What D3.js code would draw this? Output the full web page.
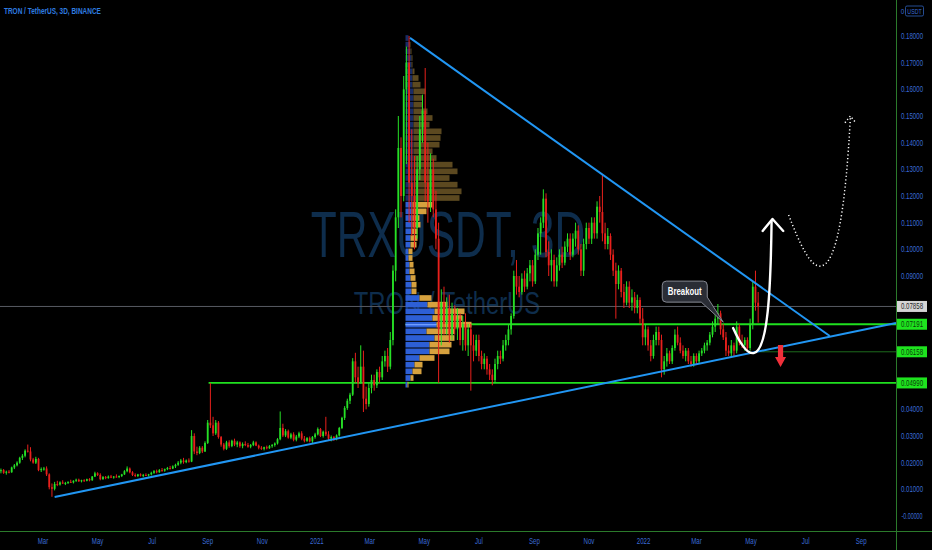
<!DOCTYPE html>
<html><head><meta charset="utf-8">
<script src="https://cdn.jsdelivr.net/npm/d3@7"></script>
<style>html,body{margin:0;padding:0;background:#000;overflow:hidden}svg{display:block}</style>
</head><body><svg id="c" width="932" height="550"></svg>
<script>
// ---------- DATA ----------
const startDate = "2020-01-14";   // first 3D candle
const stepDays = 3;
// [open, high, low, close]
const ohlc = [
[0.0168,0.0178,0.0160,0.0172],[0.0172,0.0176,0.0158,0.0162],[0.0162,0.0170,0.0155,0.0166],[0.0166,0.0172,0.0160,0.0164],[0.0164,0.0185,0.0162,0.0182],
[0.0182,0.0195,0.0176,0.0190],[0.0190,0.0205,0.0186,0.0200],[0.0200,0.0222,0.0196,0.0218],[0.0218,0.0232,0.0210,0.0226],[0.0226,0.0250,0.0220,0.0245],
[0.0245,0.0268,0.0238,0.0242],[0.0242,0.0258,0.0205,0.0212],[0.0212,0.0218,0.0196,0.0200],[0.0200,0.0222,0.0195,0.0214],[0.0214,0.0218,0.0168,0.0172],
[0.0172,0.0182,0.0165,0.0176],[0.0176,0.0184,0.0170,0.0178],[0.0178,0.0186,0.0150,0.0156],[0.0156,0.0160,0.0100,0.0108],[0.0108,0.0122,0.0072,0.0102],
[0.0102,0.0128,0.0096,0.0120],[0.0120,0.0132,0.0112,0.0118],[0.0118,0.0130,0.0114,0.0126],[0.0126,0.0134,0.0120,0.0122],[0.0122,0.0128,0.0116,0.0124],
[0.0124,0.0130,0.0120,0.0128],[0.0128,0.0136,0.0124,0.0126],[0.0126,0.0134,0.0122,0.0132],[0.0132,0.0140,0.0128,0.0136],[0.0136,0.0140,0.0128,0.0130],
[0.0130,0.0136,0.0126,0.0134],[0.0134,0.0138,0.0128,0.0132],[0.0132,0.0140,0.0130,0.0138],[0.0138,0.0142,0.0130,0.0134],[0.0134,0.0150,0.0132,0.0148],
[0.0148,0.0166,0.0146,0.0160],[0.0160,0.0164,0.0150,0.0154],[0.0154,0.0160,0.0134,0.0138],[0.0138,0.0150,0.0136,0.0146],[0.0146,0.0150,0.0138,0.0142],
[0.0142,0.0152,0.0140,0.0148],[0.0148,0.0154,0.0142,0.0144],[0.0144,0.0150,0.0140,0.0148],[0.0148,0.0156,0.0144,0.0146],[0.0146,0.0152,0.0142,0.0150],
[0.0150,0.0158,0.0146,0.0156],[0.0156,0.0172,0.0154,0.0168],[0.0168,0.0186,0.0164,0.0178],[0.0178,0.0182,0.0160,0.0164],[0.0164,0.0168,0.0150,0.0154],
[0.0154,0.0160,0.0146,0.0150],[0.0150,0.0158,0.0146,0.0156],[0.0156,0.0160,0.0148,0.0152],[0.0152,0.0158,0.0146,0.0154],[0.0154,0.0160,0.0150,0.0152],
[0.0152,0.0158,0.0148,0.0156],[0.0156,0.0166,0.0152,0.0162],[0.0162,0.0172,0.0158,0.0168],[0.0168,0.0174,0.0160,0.0164],[0.0164,0.0176,0.0162,0.0172],
[0.0172,0.0180,0.0166,0.0170],[0.0170,0.0178,0.0166,0.0176],[0.0176,0.0184,0.0172,0.0180],[0.0180,0.0188,0.0174,0.0178],[0.0178,0.0190,0.0176,0.0186],
[0.0186,0.0196,0.0180,0.0192],[0.0192,0.0206,0.0188,0.0200],[0.0200,0.0214,0.0194,0.0208],[0.0208,0.0218,0.0196,0.0202],[0.0202,0.0212,0.0198,0.0208],
[0.0208,0.0216,0.0200,0.0204],[0.0204,0.0322,0.0202,0.0300],[0.0300,0.0310,0.0232,0.0242],[0.0242,0.0260,0.0228,0.0236],[0.0236,0.0262,0.0232,0.0256],
[0.0256,0.0262,0.0236,0.0242],[0.0242,0.0280,0.0240,0.0274],[0.0274,0.0360,0.0270,0.0350],[0.0350,0.0499,0.0330,0.0340],[0.0340,0.0372,0.0300,0.0310],
[0.0310,0.0360,0.0304,0.0350],[0.0350,0.0356,0.0290,0.0296],[0.0296,0.0300,0.0260,0.0268],[0.0268,0.0274,0.0246,0.0252],[0.0252,0.0282,0.0248,0.0276],
[0.0276,0.0284,0.0256,0.0262],[0.0262,0.0286,0.0258,0.0282],[0.0282,0.0290,0.0262,0.0268],[0.0268,0.0282,0.0258,0.0276],[0.0276,0.0280,0.0256,0.0262],
[0.0262,0.0276,0.0254,0.0270],[0.0270,0.0280,0.0262,0.0266],[0.0266,0.0274,0.0256,0.0260],[0.0260,0.0270,0.0254,0.0266],[0.0266,0.0282,0.0262,0.0276],
[0.0276,0.0280,0.0262,0.0264],[0.0264,0.0268,0.0250,0.0256],[0.0256,0.0262,0.0248,0.0252],[0.0252,0.0260,0.0246,0.0258],[0.0258,0.0264,0.0250,0.0254],
[0.0254,0.0266,0.0252,0.0262],[0.0262,0.0270,0.0256,0.0266],[0.0266,0.0276,0.0260,0.0272],[0.0272,0.0292,0.0268,0.0288],[0.0288,0.0392,0.0284,0.0330],
[0.0330,0.0346,0.0296,0.0302],[0.0302,0.0326,0.0296,0.0318],[0.0318,0.0324,0.0290,0.0294],[0.0294,0.0312,0.0288,0.0306],[0.0306,0.0314,0.0280,0.0286],
[0.0286,0.0304,0.0280,0.0298],[0.0298,0.0316,0.0292,0.0310],[0.0310,0.0318,0.0284,0.0290],[0.0290,0.0300,0.0276,0.0282],[0.0282,0.0296,0.0278,0.0292],
[0.0292,0.0298,0.0276,0.0280],[0.0280,0.0300,0.0274,0.0296],[0.0296,0.0312,0.0290,0.0306],[0.0306,0.0332,0.0302,0.0326],[0.0326,0.0330,0.0296,0.0300],
[0.0300,0.0320,0.0294,0.0316],[0.0316,0.0372,0.0300,0.0306],[0.0306,0.0318,0.0284,0.0290],[0.0290,0.0302,0.0280,0.0296],[0.0296,0.0300,0.0282,0.0288],
[0.0288,0.0306,0.0284,0.0302],[0.0302,0.0334,0.0298,0.0330],[0.0330,0.0372,0.0326,0.0368],[0.0368,0.0412,0.0360,0.0405],[0.0405,0.0440,0.0398,0.0432],
[0.0432,0.0462,0.0420,0.0455],[0.0455,0.0592,0.0450,0.0580],[0.0580,0.0612,0.0500,0.0520],[0.0520,0.0560,0.0480,0.0500],[0.0500,0.0640,0.0496,0.0560],
[0.0560,0.0620,0.0390,0.0440],[0.0440,0.0485,0.0400,0.0420],[0.0420,0.0500,0.0410,0.0480],[0.0480,0.0530,0.0460,0.0510],[0.0510,0.0530,0.0470,0.0490],
[0.0490,0.0550,0.0480,0.0540],[0.0540,0.0560,0.0500,0.0520],[0.0520,0.0600,0.0510,0.0580],[0.0580,0.0620,0.0560,0.0600],[0.0600,0.0630,0.0540,0.0560],
[0.0560,0.0690,0.0550,0.0660],[0.0660,0.0940,0.0640,0.0920],[0.0920,0.1150,0.0880,0.1120],[0.1120,0.1500,0.1080,0.1380],[0.1380,0.1420,0.1120,0.1200],
[0.1200,0.1650,0.1180,0.1600],[0.1600,0.1760,0.1320,0.1700],[0.1700,0.1800,0.1100,0.1250],[0.1250,0.1450,0.1050,0.1200],[0.1200,0.1350,0.1000,0.1080],
[0.1080,0.1350,0.1040,0.1300],[0.1300,0.1500,0.1260,0.1450],[0.1450,0.1580,0.1400,0.1520],[0.1520,0.1680,0.1180,0.1250],[0.1250,0.1400,0.1100,0.1180],
[0.1180,0.1360,0.1140,0.1300],[0.1300,0.1340,0.1120,0.1150],[0.1150,0.1220,0.1000,0.1040],[0.1040,0.1100,0.0499,0.0700],[0.0700,0.0850,0.0640,0.0800],
[0.0800,0.0860,0.0680,0.0720],[0.0720,0.0820,0.0680,0.0780],[0.0780,0.0830,0.0650,0.0680],[0.0680,0.0800,0.0660,0.0760],[0.0760,0.0790,0.0680,0.0700],
[0.0700,0.0780,0.0660,0.0740],[0.0740,0.0760,0.0640,0.0660],[0.0660,0.0750,0.0620,0.0720],[0.0720,0.0760,0.0620,0.0640],[0.0640,0.0720,0.0600,0.0700],
[0.0700,0.0720,0.0470,0.0640],[0.0640,0.0680,0.0580,0.0620],[0.0620,0.0680,0.0600,0.0660],[0.0660,0.0680,0.0580,0.0600],[0.0600,0.0620,0.0550,0.0570],
[0.0570,0.0610,0.0550,0.0590],[0.0590,0.0600,0.0530,0.0550],[0.0550,0.0570,0.0510,0.0530],[0.0530,0.0550,0.0490,0.0510],[0.0510,0.0590,0.0499,0.0570],
[0.0570,0.0620,0.0550,0.0600],[0.0600,0.0620,0.0570,0.0590],[0.0590,0.0660,0.0580,0.0640],[0.0640,0.0680,0.0620,0.0660],[0.0660,0.0720,0.0640,0.0700],
[0.0700,0.0760,0.0680,0.0750],[0.0750,0.0920,0.0740,0.0900],[0.0900,0.0960,0.0830,0.0860],[0.0860,0.0900,0.0820,0.0840],[0.0840,0.0910,0.0830,0.0890],
[0.0890,0.0920,0.0840,0.0860],[0.0860,0.0930,0.0850,0.0910],[0.0910,0.0960,0.0880,0.0940],[0.0940,0.0960,0.0860,0.0880],[0.0880,0.1000,0.0870,0.0980],
[0.0980,0.1080,0.0960,0.1060],[0.1060,0.1120,0.0980,0.1100],[0.1100,0.1225,0.1080,0.1190],[0.1190,0.1210,0.0970,0.0990],[0.0990,0.1030,0.0900,0.0940],
[0.0940,0.1000,0.0880,0.0960],[0.0960,0.0980,0.0860,0.0880],[0.0880,0.0970,0.0860,0.0940],[0.0940,0.1000,0.0920,0.0980],[0.0980,0.1010,0.0930,0.0950],
[0.0950,0.1030,0.0940,0.1010],[0.1010,0.1060,0.0990,0.1040],[0.1040,0.1060,0.0960,0.0980],[0.0980,0.1060,0.0970,0.1040],[0.1040,0.1100,0.1010,0.1070],
[0.1070,0.1090,0.0980,0.1000],[0.1000,0.1020,0.0900,0.0920],[0.0920,0.1040,0.0900,0.1020],[0.1020,0.1100,0.1000,0.1080],[0.1080,0.1100,0.1020,0.1040],
[0.1040,0.1120,0.1020,0.1100],[0.1100,0.1120,0.1040,0.1060],[0.1060,0.1180,0.1040,0.1160],[0.1160,0.1200,0.1100,0.1140],[0.1140,0.1280,0.1030,0.1060],
[0.1060,0.1100,0.1000,0.1020],[0.1020,0.1080,0.1000,0.1050],[0.1050,0.1060,0.0960,0.0980],[0.0980,0.1000,0.0900,0.0920],[0.0920,0.0950,0.0740,0.0870],
[0.0870,0.0940,0.0850,0.0920],[0.0920,0.0930,0.0820,0.0840],[0.0840,0.0870,0.0780,0.0800],[0.0800,0.0880,0.0790,0.0860],[0.0860,0.0880,0.0780,0.0800],
[0.0800,0.0850,0.0770,0.0820],[0.0820,0.0840,0.0760,0.0780],[0.0780,0.0830,0.0760,0.0810],[0.0810,0.0820,0.0720,0.0740],[0.0740,0.0780,0.0640,0.0670],
[0.0670,0.0720,0.0640,0.0700],[0.0700,0.0710,0.0620,0.0640],[0.0640,0.0660,0.0580,0.0600],[0.0600,0.0680,0.0590,0.0660],[0.0660,0.0710,0.0640,0.0690],
[0.0690,0.0710,0.0640,0.0660],[0.0660,0.0680,0.0520,0.0550],[0.0550,0.0600,0.0530,0.0580],[0.0580,0.0630,0.0560,0.0610],[0.0610,0.0620,0.0570,0.0580],
[0.0580,0.0640,0.0570,0.0630],[0.0630,0.0700,0.0620,0.0680],[0.0680,0.0710,0.0640,0.0650],[0.0650,0.0670,0.0610,0.0620],[0.0620,0.0640,0.0590,0.0600],
[0.0600,0.0630,0.0580,0.0620],[0.0620,0.0630,0.0570,0.0580],[0.0580,0.0600,0.0560,0.0570],[0.0570,0.0610,0.0560,0.0600],[0.0600,0.0610,0.0570,0.0580],
[0.0580,0.0620,0.0570,0.0610],[0.0610,0.0630,0.0600,0.0620],[0.0620,0.0650,0.0610,0.0640],[0.0640,0.0660,0.0620,0.0650],[0.0650,0.0690,0.0640,0.0680],
[0.0680,0.0730,0.0670,0.0710],[0.0710,0.0760,0.0690,0.0740],[0.0740,0.0795,0.0720,0.0760],[0.0760,0.0770,0.0680,0.0700],[0.0700,0.0720,0.0660,0.0670],
[0.0670,0.0690,0.0600,0.0620],[0.0620,0.0640,0.0600,0.0610],[0.0610,0.0660,0.0595,0.0640],[0.0640,0.0650,0.0600,0.0620],[0.0620,0.0730,0.0610,0.0710],
[0.0710,0.0720,0.0640,0.0650],[0.0650,0.0680,0.0630,0.0640],[0.0640,0.0670,0.0620,0.0660],[0.0660,0.0670,0.0620,0.0630],[0.0630,0.0740,0.0620,0.0720],
[0.0720,0.0880,0.0700,0.0860],[0.0860,0.0920,0.0770,0.0800],[0.0800,0.0840,0.0725,0.0786]
];

// Visible-range volume profile (rows of 0.0025 starting at 0.048)
const profileBase = 0.048;
const profileStep = 0.0025;
const profileUp   = [2,5,7,9,14,24,24,29,21,31,27,29,22,14,6,6,5,4,4,3,3,5,5,6,7,7,7,7,8,8,8,8,8,8,8,8,8,8,8,8,8,8,8,8,8,7,7,7,6,6,5,4,3];
const profileDown = [1,3,9,8,15,20,22,20,28,35,30,30,20,12,5,5,5,5,4,4,4,6,7,6,8,7,14,20,46,48,44,36,44,39,23,19,26,27,28,16,19,14,9,9,12,8,6,2,1,1,1,1,0];
const valueAreaTopRow = 27;
const pocRow = 9;
const profileStart = "2021-04-10";

const priceTicks = [0.18,0.17,0.16,0.15,0.14,0.13,0.12,0.11,0.10,0.09,0.04,0.03,0.02,0.01,0];
const timeTicks = [["2020-03-01","Mar"],["2020-05-01","May"],["2020-07-01","Jul"],["2020-09-01","Sep"],["2020-11-01","Nov"],["2021-01-01","2021"],
  ["2021-03-01","Mar"],["2021-05-01","May"],["2021-07-01","Jul"],["2021-09-01","Sep"],["2021-11-01","Nov"],["2022-01-01","2022"],
  ["2022-03-01","Mar"],["2022-05-01","May"],["2022-07-01","Jul"],["2022-09-01","Sep"]];

const lastPrice = 0.07858;
const levelLines = [
  {from:"2021-04-10", value:0.07191, kind:"main"},
  {from:"2020-09-02", value:0.04990, kind:"main"},
  {from:"2022-05-11", value:0.06158, kind:"thin"}
];
const axisLabels = [
  {value:0.07858, bg:"#d4d4d4", fg:"#2a2a2a"},
  {value:0.07191, bg:"#1ee31e", fg:"#0b3d0b"},
  {value:0.06158, bg:"#1ee31e", fg:"#0b3d0b"},
  {value:0.04990, bg:"#1ee31e", fg:"#0b3d0b"}
];
const trendLines = [
  [["2021-04-15",0.1793],["2022-07-28",0.0675]],
  [["2020-03-14",0.0071],["2022-10-10",0.0724]]
];
const upCurve = [["2022-04-11",0.0705],["2022-04-21",0.0630],["2022-04-28",0.0607],["2022-05-04",0.0611],["2022-05-20",0.0622],["2022-05-23",0.0847],["2022-05-24",0.1106]];
const upHead = [["2022-05-14",0.1069],["2022-05-25",0.1114],["2022-06-06",0.1069]];
const dotCurve = [["2022-06-12",0.1129],["2022-06-25",0.1016],["2022-07-06",0.0937],["2022-07-17",0.0937],["2022-08-06",0.0937],["2022-08-15",0.1185],["2022-08-20",0.1492]];
const dotHead = [["2022-08-14",0.1475],["2022-08-20",0.1500],["2022-08-26",0.1475]];
const downMark = ["2022-06-03",0.0641];
const callout = {text:"Breakout", at:["2022-03-31",0.0727]};

// ---------- DRAW ----------
const W = 932, H = 550, axisX = 896.5, axisY = 531.5;
const parse = d3.utcParse("%Y-%m-%d");
const x = d3.scaleUtc().domain([parse("2020-03-01"), parse("2022-05-01")]).range([43, 751]);
const y = d3.scaleLinear().domain([0, 0.18]).range([516, 36]);
const P = p => [x(parse(p[0])), y(p[1])];
const svg = d3.select("#c");
const FONT = "'Liberation Sans', Arial, sans-serif";

// condensed text helper (the reference uses a narrow face)
function ctext(parent, tx, ty, str, size, fill, anchor, sx, weight) {
  return parent.append("text")
    .attr("transform", `translate(${tx},${ty}) scale(${sx},1)`)
    .attr("text-anchor", anchor)
    .style("font", `${weight||"normal"} ${size}px ${FONT}`)
    .attr("fill", fill).text(str);
}

svg.append("rect").attr("width", W).attr("height", H).attr("fill", "#000");

const plot = svg.append("g");
plot.append("clipPath").attr("id","clip").append("rect").attr("width", axisX).attr("height", axisY);
const g = plot.append("g").attr("clip-path","url(#clip)");

// watermark
ctext(g, 448, 257, "TRXUSDT, 3D", 65, "#0e2d4c", "middle", 0.655);
ctext(g, 447, 314, "TRON / TetherUS", 31, "#0e2d4c", "middle", 0.77);

// last price line
g.append("line").attr("x1",0).attr("x2",axisX).attr("y1",y(lastPrice)).attr("y2",y(lastPrice))
  .attr("stroke","#575a63").attr("stroke-width",1);

// horizontal levels
levelLines.forEach(l => {
  g.append("line").attr("x1", x(parse(l.from))).attr("x2", axisX).attr("y1", y(l.value)).attr("y2", y(l.value))
    .attr("stroke", l.kind==="main" ? "#1fe01f" : "#1d6b1d").attr("stroke-width", l.kind==="main" ? 1.8 : 1);
});

// volume profile
const px0 = x(parse(profileStart));
const vx = d3.scaleLinear().domain([0, 66]).range([px0, px0 + 66]);
profileUp.forEach((u, k) => {
  const d = profileDown[k];
  const top = y(profileBase + (k+1)*profileStep), bot = y(profileBase + k*profileStep);
  const h = bot - top - 1;
  const inVA = k <= valueAreaTopRow;
  g.append("rect").attr("x", vx(0)).attr("y", top+0.5).attr("width", vx(u)-vx(0)).attr("height", h)
    .attr("fill", inVA ? "#2d5fd6" : "#1a2c66");
  if (d > 0) g.append("rect").attr("x", vx(u)).attr("y", top+0.5).attr("width", vx(u+d)-vx(u)).attr("height", h)
    .attr("fill", inVA ? "#d6a13e" : "#5c4920");
});
{
  const yc = y(profileBase + (pocRow+0.5)*profileStep);
  g.append("line").attr("x1", vx(0)).attr("x2", vx(profileUp[pocRow])).attr("y1", yc).attr("y2", yc)
    .attr("stroke", "#6f9cff").attr("stroke-width", 1.4);
}

// candles
const t0 = parse(startDate);
const cg = g.append("g");
ohlc.forEach((c, i) => {
  const cx = x(d3.utcDay.offset(t0, i*stepDays));
  const up = c[3] >= c[0];
  const col = up ? "#26e026" : "#e8201c";
  cg.append("line").attr("x1", cx).attr("x2", cx).attr("y1", y(c[1])).attr("y2", y(c[2]))
    .attr("stroke", col).attr("stroke-width", 1);
  const yt = y(Math.max(c[0], c[3])), yb = y(Math.min(c[0], c[3]));
  cg.append("rect").attr("x", cx-0.9).attr("y", yt).attr("width", 1.8).attr("height", Math.max(1, yb-yt)).attr("fill", col);
});

// trend lines
trendLines.forEach(t => {
  const a = P(t[0]), b = P(t[1]);
  g.append("line").attr("x1",a[0]).attr("y1",a[1]).attr("x2",b[0]).attr("y2",b[1])
    .attr("stroke","#2196f3").attr("stroke-width",2);
});

// curved arrows
function curvePath(pts){
  const q = pts.map(P);
  return `M${q[0]} C${q[1]} ${q[2]} ${q[3]} C${q[4]} ${q[5]} ${q[6]}`;
}
g.append("path").attr("d", curvePath(upCurve)).attr("fill","none").attr("stroke","#fff").attr("stroke-width",2.4).attr("stroke-linecap","round");
g.append("path").attr("d", "M"+upHead.map(P).join("L")).attr("fill","none").attr("stroke","#fff").attr("stroke-width",2.4).attr("stroke-linecap","round").attr("stroke-linejoin","round");
g.append("path").attr("d", curvePath(dotCurve)).attr("fill","none").attr("stroke","#fff").attr("stroke-width",1.5).attr("stroke-dasharray","1.2 2.4");
g.append("path").attr("d", "M"+dotHead.map(P).join("L")).attr("fill","none").attr("stroke","#fff").attr("stroke-width",1.5).attr("stroke-dasharray","1.2 2.4");

// red down arrow
{
  const [ax, ay] = P(downMark);
  g.append("path").attr("d", `M${ax-2.6},${ay} H${ax+2.6} V${ay+12} H${ax+5.5} L${ax},${ay+22} L${ax-5.5},${ay+12} H${ax-2.6} Z`)
    .attr("fill","#f0303a");
}

// breakout callout
{
  const [ax, ay] = P(callout.at);
  const L = ax-61, R = ax-16, T = ay-41, B = ay-20, r = 4;
  const d = `M${L+r},${T} H${R-r} A${r},${r} 0 0 1 ${R},${T+r} V${B-5} L${ax},${ay} L${R-6},${B} H${L+r} A${r},${r} 0 0 1 ${L},${B-r} V${T+r} A${r},${r} 0 0 1 ${L+r},${T} Z`;
  g.append("path").attr("d", d).attr("fill","#2a2d35").attr("stroke","#868993").attr("stroke-width",1);
  ctext(g, (L+R)/2, (T+B)/2+3.5, callout.text, 10, "#fff", "middle", 0.78, "bold");
}

// title
ctext(svg, 4, 14, "TRON / TetherUS, 3D, BINANCE", 9, "#2f7de0", "start", 0.72, "bold");

// axis frame lines
svg.append("line").attr("x1",axisX).attr("x2",axisX).attr("y1",0).attr("y2",H).attr("stroke","#2b7a2b").attr("stroke-width",1);
svg.append("line").attr("x1",0).attr("x2",W).attr("y1",axisY).attr("y2",axisY).attr("stroke","#2b7a2b").attr("stroke-width",1);

// price axis labels
const axisCol = "#3a6bd4";
priceTicks.forEach(v => {
  const s = v===0 ? "-0.00000" : v.toFixed(5);
  ctext(svg, 912, y(v)+3, s, 8.5, axisCol, "middle", s.length > 7 ? 0.63 : 0.72);
});
axisLabels.forEach(l => {
  const yc = y(l.value);
  svg.append("rect").attr("x",897).attr("y",yc-5.5).attr("width",30).attr("height",11).attr("fill",l.bg);
  ctext(svg, 912, yc+3, l.value.toFixed(5), 8.5, l.fg, "middle", 0.72);
});
// currency tag
ctext(svg, 902.5, 14, "0", 8, axisCol, "middle", 0.8);
svg.append("rect").attr("x",905.5).attr("y",6).attr("width",18).attr("height",10).attr("rx",1.5).attr("fill","none").attr("stroke","#2f5fb8").attr("stroke-width",0.8);
ctext(svg, 914.5, 14, "USDT", 8, axisCol, "middle", 0.66);

// time axis labels
timeTicks.forEach(t => {
  ctext(svg, x(parse(t[0])), 544, t[1], 8.5, axisCol, "middle", 0.72);
});
</script></body></html>
